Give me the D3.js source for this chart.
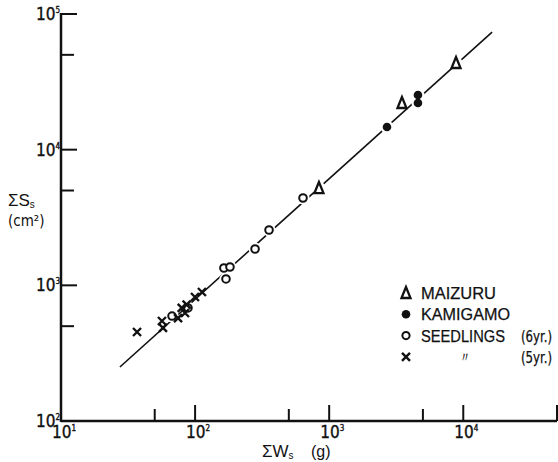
<!DOCTYPE html>
<html>
<head>
<meta charset="utf-8">
<script src="https://cdn.jsdelivr.net/npm/d3@7"></script>
<style>
  html, body { margin: 0; padding: 0; background: #fff; }
  svg { display: block; }
  text { font-family: "Liberation Sans", Arial, sans-serif; fill: #111; }
  .narrow { font-family: "Liberation Sans Narrow", "DejaVu Sans Condensed", "Liberation Sans", Arial, sans-serif; }
</style>
</head>
<body>
<script>
// ---- data ----
const maizuruW = [839, 3490, 8830];
const maizuruS = [5215, 22080, 43540];

const kamigamoW = [2698, 4592, 4592];
const kamigamoS = [14690, 25290, 22080];

const seedlings6W = [638, 356, 280, 164, 182, 170, 67.3, 88.5];
const seedlings6S = [4404, 2558, 1853, 1342, 1365, 1114, 594, 681];

const seedlings5W = [36.9, 56.6, 57.6, 74.6, 79.5, 84.1, 86.5, 99.8, 112.5];
const seedlings5S = [453, 546, 485, 574, 681, 625, 720, 820, 893];

const fitW = [27.5, 16400];
const fitS = [250, 73600];

const xMajorTicks = [10, 100, 1000, 10000];
const xMinorTicks = [50, 500, 5000, 50000];
const yMajorTicks = [1000, 10000, 100000];
const yMinorTicks = [500, 5000, 50000];

const xTickExp = ["1", "2", "3", "4"];
const yTickExp = ["2", "3", "4", "5"];
const yTickVals = [100, 1000, 10000, 100000];

const legendLabels = ["MAIZURU", "KAMIGAMO", "SEEDLINGS", ""];
const legendSuffix = ["", "", "(6yr.)", "(5yr.)"];

// ---- drawing ----
const W = 558, H = 462;
const svg = d3.select("body").append("svg").attr("width", W).attr("height", H);

const x = d3.scaleLog().domain([10, 50000]).range([61, 557]);
const y = d3.scaleLog().domain([100, 100000]).range([421, 14]);

const ink = "#111";

// axes lines
svg.append("line").attr("x1", x(10)).attr("x2", x(50000)).attr("y1", y(100)).attr("y2", y(100))
  .attr("stroke", ink).attr("stroke-width", 2.5);
svg.append("line").attr("x1", x(10)).attr("x2", x(10)).attr("y1", y(100) + 1).attr("y2", y(100000) - 1)
  .attr("stroke", ink).attr("stroke-width", 2.5);

// x ticks (pointing up, inside)
svg.selectAll(".xmaj").data(xMajorTicks.slice(1).concat([50000])).enter().append("line")
  .attr("x1", d => x(d)).attr("x2", d => x(d)).attr("y1", y(100)).attr("y2", y(100) - 16)
  .attr("stroke", ink).attr("stroke-width", 2);
svg.selectAll(".xmin").data(xMinorTicks.slice(0, 3)).enter().append("line")
  .attr("x1", d => x(d)).attr("x2", d => x(d)).attr("y1", y(100)).attr("y2", y(100) - 12)
  .attr("stroke", ink).attr("stroke-width", 2);

// y ticks (pointing right, inside)
svg.selectAll(".ymaj").data(yMajorTicks).enter().append("line")
  .attr("x1", x(10)).attr("x2", x(10) + 16).attr("y1", d => y(d)).attr("y2", d => y(d))
  .attr("stroke", ink).attr("stroke-width", 2);
svg.selectAll(".ymin").data(yMinorTicks).enter().append("line")
  .attr("x1", x(10)).attr("x2", x(10) + 13).attr("y1", d => y(d)).attr("y2", d => y(d))
  .attr("stroke", ink).attr("stroke-width", 2);

// x tick labels
const xl = svg.selectAll(".xlab").data(xMajorTicks).enter().append("text")
  .attr("class", "narrow")
  .attr("x", d => x(d) - 9).attr("y", y(100) + 17)
  .attr("font-size", 17).attr("stroke", ink).attr("stroke-width", 0.35);
xl.append("tspan").text("10");
xl.append("tspan").attr("dy", -7).attr("font-size", 8).text((d, i) => xTickExp[i]);

// y tick labels
const yl = svg.selectAll(".ylab").data(yTickVals).enter().append("text")
  .attr("class", "narrow")
  .attr("x", 36).attr("y", d => y(d) + 6)
  .attr("font-size", 17).attr("stroke", ink).attr("stroke-width", 0.35);
yl.append("tspan").text("10");
yl.append("tspan").attr("dy", -7).attr("font-size", 8).text((d, i) => yTickExp[i]);

// axis titles
const xt = svg.append("text").attr("x", 262).attr("y", 457).attr("font-size", 17);
xt.append("tspan").text("ΣW");
xt.append("tspan").attr("dy", 2).attr("font-size", 10).text("s");
svg.append("text").attr("x", 311).attr("y", 457).attr("font-size", 16).text("(g)");

const yt = svg.append("text").attr("x", 8).attr("y", 206).attr("font-size", 17);
yt.append("tspan").text("ΣS");
yt.append("tspan").attr("dy", 2).attr("font-size", 10).text("s");
svg.append("text").attr("class", "narrow").attr("x", 8).attr("y", 226).attr("font-size", 15).text("(cm²)");

// regression line
svg.append("line")
  .attr("x1", x(fitW[0])).attr("y1", y(fitS[0]))
  .attr("x2", x(fitW[1])).attr("y2", y(fitS[1]))
  .attr("stroke", ink).attr("stroke-width", 1.6);

const tri = "M0,-6L-4.5,5L4.5,5Z";
const cross = "M-4,-4L4,4M-4,4L4,-4";

function pts(ws, ss) { return ws.map((w, i) => ({ w: w, s: ss[i] })); }

// white halos to break the line around markers
const haloPts = pts(maizuruW, maizuruS).concat(pts(kamigamoW, kamigamoS), pts(seedlings6W, seedlings6S));
svg.selectAll(".halo").data(haloPts).enter().append("circle")
  .attr("cx", d => x(d.w)).attr("cy", d => y(d.s)).attr("r", 6.5).attr("fill", "#fff");

// markers
svg.selectAll(".mai").data(pts(maizuruW, maizuruS)).enter().append("path")
  .attr("d", tri).attr("transform", d => `translate(${x(d.w)},${y(d.s)})`)
  .attr("fill", "none").attr("stroke", ink).attr("stroke-width", 2.3).attr("stroke-linejoin", "miter");

svg.selectAll(".kam").data(pts(kamigamoW, kamigamoS)).enter().append("circle")
  .attr("cx", d => x(d.w)).attr("cy", d => y(d.s)).attr("r", 4.3).attr("fill", ink);

svg.selectAll(".s6").data(pts(seedlings6W, seedlings6S)).enter().append("circle")
  .attr("cx", d => x(d.w)).attr("cy", d => y(d.s)).attr("r", 3.8)
  .attr("fill", "#fff").attr("stroke", ink).attr("stroke-width", 2);

svg.selectAll(".s5").data(pts(seedlings5W, seedlings5S)).enter().append("path")
  .attr("d", cross).attr("transform", d => `translate(${x(d.w)},${y(d.s)})`)
  .attr("fill", "none").attr("stroke", ink).attr("stroke-width", 2.4);

// legend
const lx = 406, ly0 = 293, dy = 21.3;
const labelWidths = [75, 89, 84, 0];
const lg = svg.append("g");
lg.append("path").attr("d", tri).attr("transform", `translate(${lx},${ly0})`)
  .attr("fill", "none").attr("stroke", ink).attr("stroke-width", 2.3);
lg.append("circle").attr("cx", lx).attr("cy", ly0 + dy).attr("r", 4.3).attr("fill", ink);
lg.append("circle").attr("cx", lx).attr("cy", ly0 + 2 * dy).attr("r", 3.6)
  .attr("fill", "#fff").attr("stroke", ink).attr("stroke-width", 2);
lg.append("path").attr("d", cross).attr("transform", `translate(${lx},${ly0 + 3 * dy})`)
  .attr("fill", "none").attr("stroke", ink).attr("stroke-width", 2.4);

legendLabels.forEach((t, i) => {
  if (t) {
    lg.append("text").attr("x", 421).attr("y", ly0 + i * dy + 6).attr("font-size", 16)
      .attr("textLength", labelWidths[i]).attr("lengthAdjust", "spacingAndGlyphs")
      .attr("stroke", ink).attr("stroke-width", 0.25).text(t);
  }
  if (legendSuffix[i]) {
    lg.append("text").attr("class", "narrow").attr("x", 521).attr("y", ly0 + i * dy + 6)
      .attr("font-size", 15).attr("textLength", 31).attr("lengthAdjust", "spacingAndGlyphs")
      .attr("stroke", ink).attr("stroke-width", 0.25).text(legendSuffix[i]);
  }
});
lg.append("text").attr("x", 458).attr("y", ly0 + 3 * dy + 5).attr("font-size", 14).text("〃");
</script>
</body>
</html>
